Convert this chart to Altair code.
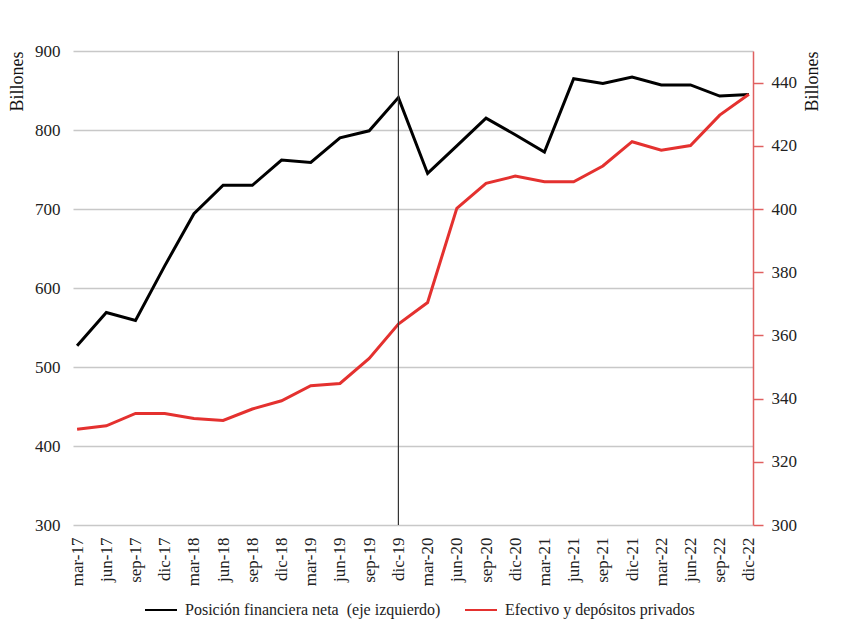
import altair as alt
import pandas as pd

fechas = ["mar-17", "jun-17", "sep-17", "dic-17", "mar-18", "jun-18", "sep-18", "dic-18",
          "mar-19", "jun-19", "sep-19", "dic-19", "mar-20", "jun-20", "sep-20", "dic-20",
          "mar-21", "jun-21", "sep-21", "dic-21", "mar-22", "jun-22", "sep-22", "dic-22"]
posicion = [527, 569, 559, 628, 694, 730, 730, 762, 759, 790, 799, 841,
            745, 780, 815, 794, 772, 865, 859, 867, 857, 857, 843, 845]
efectivo = [330.3, 331.4, 335.3, 335.3, 333.7, 333.1, 336.7, 339.3, 344.1, 344.8, 352.7, 363.6,
            370.4, 400.2, 408.1, 410.4, 408.6, 408.6, 413.6, 421.3, 418.6, 420.1, 429.7, 436.3]
serie_a = "Posición financiera neta \u00a0(eje izquierdo)"
serie_b = "Efectivo y depósitos privados"
izq_ticks = [300, 400, 500, 600, 700, 800, 900]
der_ticks = [300, 320, 340, 360, 380, 400, 420, 440]
linea_vertical = "dic-19"

df = pd.DataFrame({
    "fecha": fechas * 2,
    "serie": [serie_a] * len(fechas) + [serie_b] * len(fechas),
    "valor": posicion + efectivo,
})

FONT = "Liberation Serif"
RED = "#e4312f"

xscale = alt.Scale(type="point", domain=fechas, padding=0.14)
xaxis = alt.Axis(title=None, labelAngle=-90, labelFont=FONT, labelFontSize=17,
                 labelPadding=12, ticks=False, domain=False, grid=False, labelColor="#222")
color = alt.Color("serie:N",
                  scale=alt.Scale(domain=[serie_a, serie_b], range=["#000000", RED]),
                  legend=alt.Legend(title=None, orient="none", direction="horizontal",
                                    legendX=71, legendY=542, symbolType="stroke",
                                    symbolSize=1024, symbolStrokeWidth=2,
                                    labelFont=FONT, labelFontSize=16, labelColor="#222",
                                    labelLimit=400, columnPadding=20, labelOffset=7))

base = alt.Chart(df)

left = base.transform_filter(alt.datum.serie == serie_a).mark_line(strokeWidth=3).encode(
    x=alt.X("fecha:O", scale=xscale, axis=xaxis),
    y=alt.Y("valor:Q", scale=alt.Scale(domain=[300, 900], nice=False),
            axis=alt.Axis(title="Billones", values=izq_ticks, titleAnchor="end",
                          titleFont=FONT, labelFont=FONT,
                          titleFontWeight="normal", titleFontSize=18, titlePadding=8,
                          labelFontSize=17, labelPadding=13, ticks=False, domain=False,
                          grid=True, gridColor="#c8c8c8", gridWidth=1.5,
                          labelColor="#222", titleColor="#111")),
    color=color,
)

right = base.transform_filter(alt.datum.serie == serie_b).mark_line(strokeWidth=3).encode(
    x=alt.X("fecha:O", scale=xscale, axis=xaxis),
    y=alt.Y("valor:Q", scale=alt.Scale(domain=[300, 450], nice=False),
            axis=alt.Axis(title="Billones", orient="right", values=der_ticks,
                          titleAnchor="end", titleAngle=-90, titleFontWeight="normal",
                          titleFont=FONT, labelFont=FONT,
                          titleFontSize=18, titlePadding=25, labelFontSize=17,
                          labelPadding=8, ticks=True, tickSize=10, tickWidth=1.5,
                          tickColor="#e06060", domain=True, domainColor="#e06060",
                          domainWidth=1.5, grid=False, labelColor="#222",
                          titleColor="#111")),
    color=color,
)

rule = alt.Chart(pd.DataFrame({"fecha": [linea_vertical]})).mark_rule(
    color="#333333", strokeWidth=1.2).encode(
    x=alt.X("fecha:O", scale=xscale, axis=xaxis),
)

chart = alt.layer(left, right, rule).resolve_scale(y="independent").properties(
    width=680, height=474,
    autosize=alt.AutoSizeParams(type="none"),
    padding={"left": 65, "top": 43, "right": 80, "bottom": 100},
    background="white",
).configure_view(stroke=None)

chart.save("out.html", embed_options={"renderer": "svg", "actions": False})
